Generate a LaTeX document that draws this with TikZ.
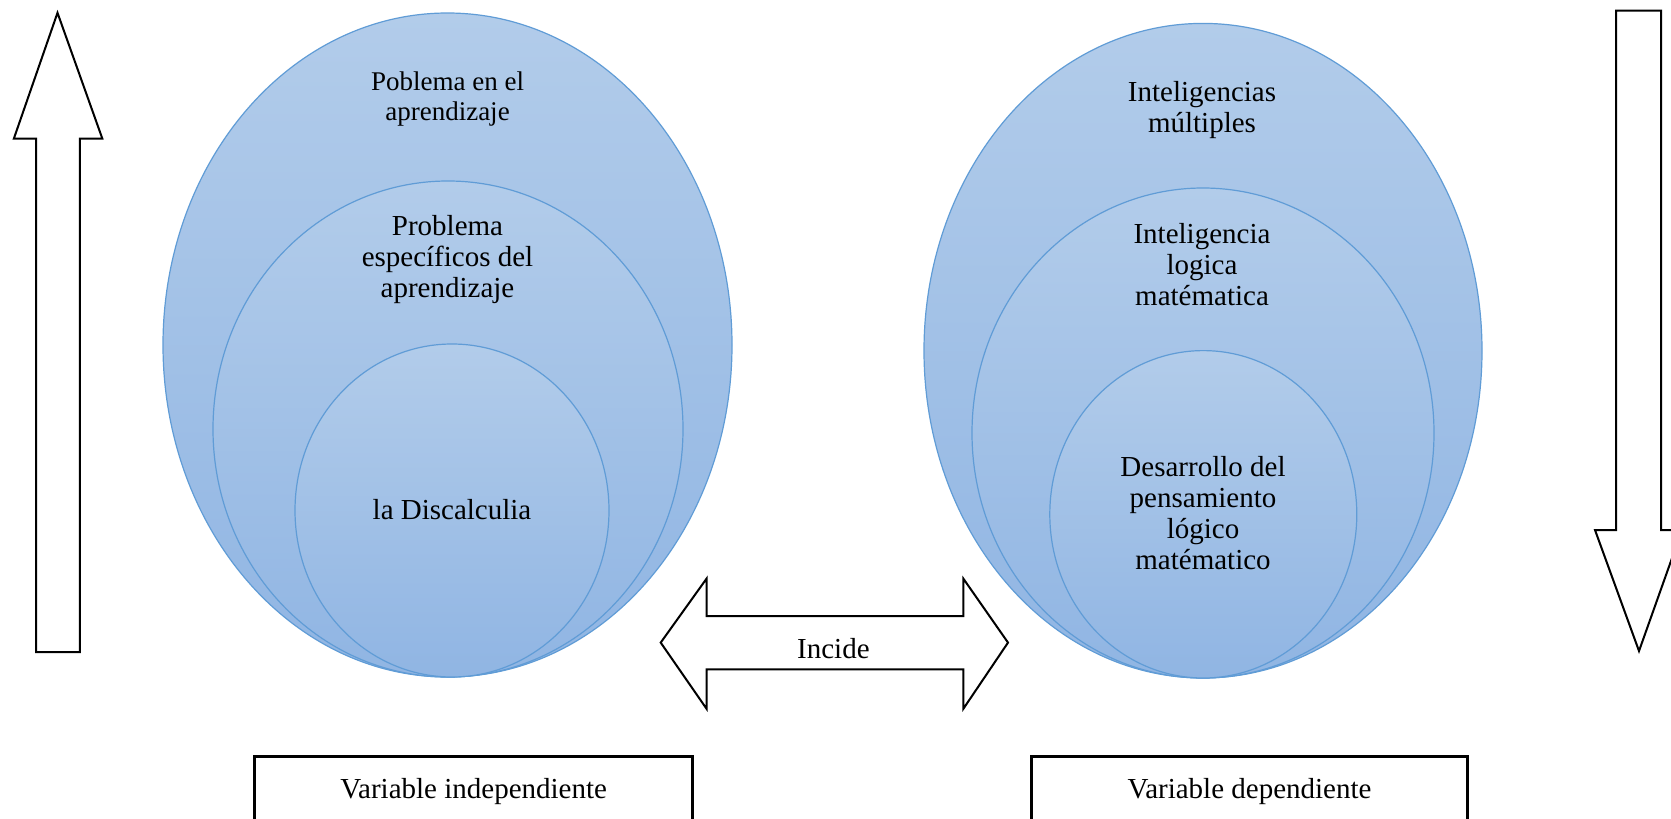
\documentclass[tikz,border=0pt]{standalone}
\usepackage{fontspec}
\setmainfont{Liberation Serif}
\definecolor{bubtop}{RGB}{178,204,234}
\definecolor{bubbot}{RGB}{144,181,227}
\definecolor{bubline}{RGB}{96,156,214}
\begin{document}
\begin{tikzpicture}[x=0.5pt,y=-0.5pt,
  bubble/.style={draw=bubline, line width=0.6pt, top color=bubtop, bottom color=bubbot},
  block/.style={draw=black, line width=1pt, fill=white, line join=miter},
  frame/.style={draw=black, line width=1.4pt, fill=white},
  lbl/.style={font=\fontsize{14.5}{15.5}\selectfont, align=center, inner sep=0pt, text=black},
  small/.style={lbl, font=\fontsize{13.5}{15}\selectfont},
]
\clip (0,0) rectangle (1671,819);
\fill[white] (0,0) rectangle (1671,819);

% vertical arrows at the sides
\draw[block] (57.5,12.8) -- (102.3,138.5) -- (79.9,138.5) -- (79.9,652)
  -- (36.2,652) -- (36.2,138.5) -- (13.9,138.5) -- cycle;
\draw[block] (1616,10.7) -- (1661,10.7) -- (1661,530) -- (1682,530)
  -- (1639,651) -- (1595,530) -- (1616,530) -- cycle;

% nested bubbles, independent variable
\draw[bubble] (447.5,345) ellipse [x radius=284.5, y radius=332];
\draw[bubble] (448,429) ellipse [x radius=235, y radius=248];
\draw[bubble] (452,510.5) ellipse [x radius=157, y radius=166.5];
\node[small] (aprend) at (447.5,99) {Poblema en el\\aprendizaje};
\node[lbl] (especif) at (447.5,260) {Problema\\específicos del\\aprendizaje};
\node[lbl] (discal) at (452,510) {la Discalculia};

% nested bubbles, dependent variable
\draw[bubble] (1203,350.7) ellipse [x radius=279, y radius=327.3];
\draw[bubble] (1203,433) ellipse [x radius=231, y radius=245];
\draw[bubble] (1203.3,514.3) ellipse [x radius=153.5, y radius=163.7];
\node[lbl] (multi) at (1202,110) {Inteligencias\\múltiples};
\node[lbl] (logica) at (1202,265) {Inteligencia\\logica\\matématica};
\node[lbl] (pensam) at (1203,513) {Desarrollo del\\pensamiento\\lógico\\matématico};

% two-way arrow between the groups
\draw[block] (660.7,642.6) -- (706.5,578.7) -- (706.5,616) -- (963.4,616)
  -- (963.4,578.7) -- (1008,642.6) -- (963.4,708.7) -- (963.4,669.3)
  -- (706.5,669.3) -- (706.5,708.7) -- cycle;
\node[lbl] (incide) at (833.4,649) {Incide};

% variable labels
\draw[frame] (254.7,756.7) rectangle (692.7,840);
\node[lbl] (vind) at (473.7,792) {Variable independiente};
\draw[frame] (1031.6,756.7) rectangle (1467.5,840);
\node[lbl] (vdep) at (1249.5,792) {Variable dependiente};
\end{tikzpicture}
\end{document}
